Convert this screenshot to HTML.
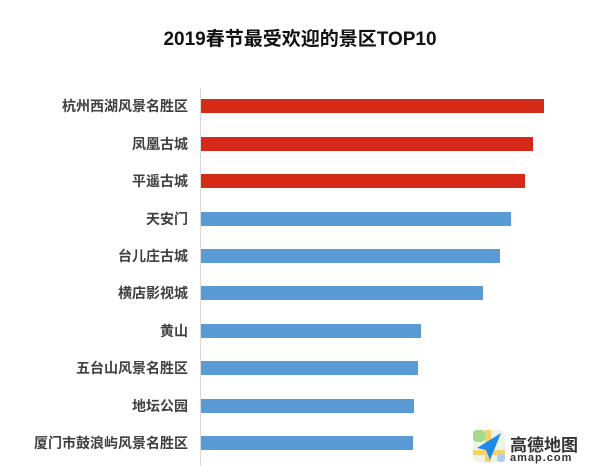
<!DOCTYPE html>
<html><head><meta charset="utf-8"><style>
body{margin:0;width:600px;height:476px;background:#fff;position:relative;overflow:hidden;font-family:"Liberation Sans","Noto Sans CJK SC",sans-serif}
.t{position:absolute;top:24px;left:0;width:600px;text-align:center;font-size:19px;font-weight:bold;color:#111}
.ax{position:absolute;left:200px;top:88px;width:1px;height:378px;background:#d9d9d9}
.l{position:absolute;right:412px;font-size:14px;font-weight:bold;color:#404040;white-space:nowrap;line-height:16px}
.b{position:absolute;left:201px;height:14px}
.r{background:#d42a17}.u{background:#5b9bd5}
</style></head><body>
<div class="t">2019春节最受欢迎的景区TOP10</div>
<div class="ax"></div>
<div class="l" style="top:98px">杭州西湖风景名胜区</div><div class="b r" style="top:99px;width:343px"></div>
<div class="l" style="top:136px">凤凰古城</div><div class="b r" style="top:137px;width:332px"></div>
<div class="l" style="top:173px">平遥古城</div><div class="b r" style="top:174px;width:324px"></div>
<div class="l" style="top:211px">天安门</div><div class="b u" style="top:212px;width:310px"></div>
<div class="l" style="top:248px">台儿庄古城</div><div class="b u" style="top:249px;width:299px"></div>
<div class="l" style="top:285px">横店影视城</div><div class="b u" style="top:286px;width:282px"></div>
<div class="l" style="top:323px">黄山</div><div class="b u" style="top:324px;width:220px"></div>
<div class="l" style="top:360px">五台山风景名胜区</div><div class="b u" style="top:361px;width:217px"></div>
<div class="l" style="top:398px">地坛公园</div><div class="b u" style="top:399px;width:213px"></div>
<div class="l" style="top:435px">厦门市鼓浪屿风景名胜区</div><div class="b u" style="top:436px;width:212px"></div>
<svg style="position:absolute;left:471px;top:428px" width="36" height="36" viewBox="0 0 36 36">
<rect x="2" y="2" width="32" height="32" rx="6" fill="#eef3e8"/>
<rect x="2" y="2" width="12" height="12" rx="4" fill="#a8d88a"/>
<rect x="14" y="2" width="6" height="32" fill="#f6d36a"/>
<rect x="2" y="22" width="32" height="5" fill="#f6d36a"/>
<rect x="26" y="26" width="8" height="8" rx="3" fill="#a9cff5"/>
<polygon points="30,5 6,20 15,22 19,32" fill="#1f8ae8"/>
</svg>
<div style="position:absolute;left:510px;top:431px;font-size:17px;font-weight:bold;color:#333">高德地图</div>
<div style="position:absolute;left:510px;top:452px;font-size:11px;font-weight:bold;color:#333;letter-spacing:1px">amap.com</div>
</body></html>
